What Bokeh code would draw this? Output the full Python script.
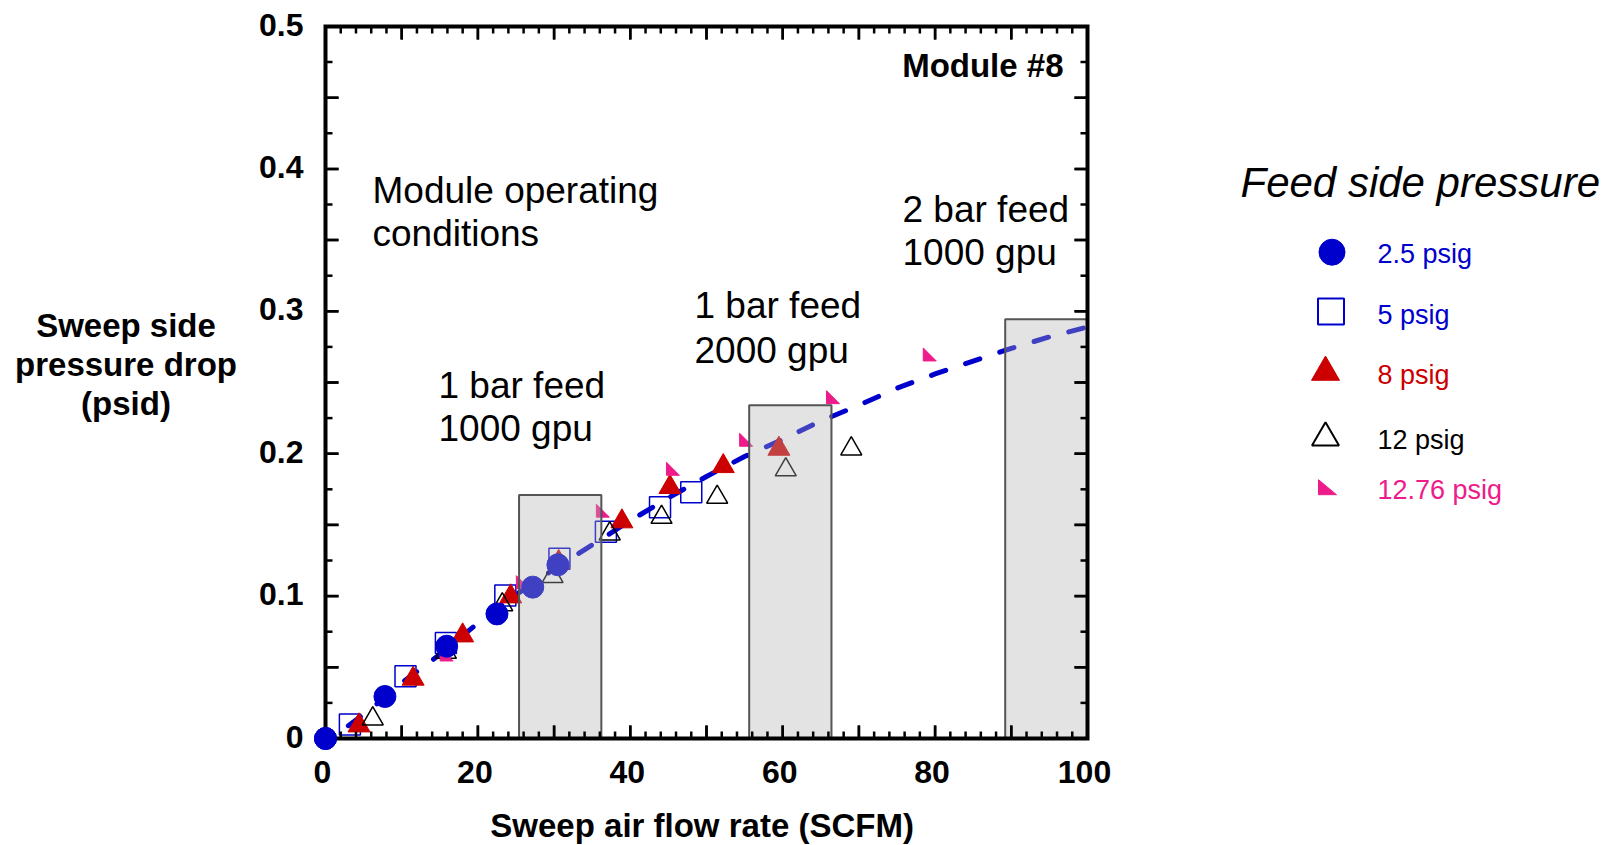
from bokeh.plotting import figure
from bokeh.models import Range1d, Label
from bokeh.embed import file_html
from bokeh.resources import INLINE

# ---------------- data ----------------
x_2_5 = [0.0, 7.8, 15.9, 22.5, 27.2, 30.5]
y_2_5 = [0.0, 0.0295, 0.0648, 0.0875, 0.1063, 0.1220]

x_5 = [3.2, 10.5, 15.8, 23.6, 30.7, 36.8, 43.9, 48.0]
y_5 = [0.0098, 0.0438, 0.0670, 0.1004, 0.1262, 0.1452, 0.1624, 0.1730]

x_8 = [4.4, 11.5, 18.0, 24.3, 30.6, 38.9, 45.2, 52.2, 59.5]
y_8 = [0.0091, 0.0419, 0.0723, 0.0997, 0.1238, 0.1524, 0.1765, 0.1912, 0.2034]

x_12 = [6.2, 15.8, 23.2, 29.8, 37.3, 44.1, 51.4, 60.4, 69.0]
y_12 = [0.0138, 0.0606, 0.0939, 0.1138, 0.1437, 0.1554, 0.1695, 0.1887, 0.2034]

x_12_76 = [15.9, 25.9, 36.4, 45.6, 55.2, 66.6, 79.3]
y_12_76 = [0.0590, 0.1098, 0.1600, 0.1894, 0.2098, 0.2397, 0.2697]

fit_x = [3, 6, 10, 15, 20, 25, 30, 35, 40, 45, 50, 55, 60, 65, 70, 75, 80, 85, 90, 95, 100]
fit_y = [0.009, 0.021, 0.039, 0.059, 0.081, 0.101, 0.119, 0.136, 0.153, 0.169, 0.184,
         0.198, 0.210, 0.223, 0.234, 0.246, 0.256, 0.265, 0.274, 0.282, 0.289]

box_left = [25.4, 55.6, 89.2]
box_right = [36.2, 66.4, 100.0]
box_top = [0.171, 0.234, 0.2945]

series_labels = ["2.5 psig", "5 psig", "8 psig", "12 psig", "12.76 psig"]

X_MIN, X_MAX, Y_MIN, Y_MAX = 0, 100, 0, 0.5
x_major = [0, 10, 20, 30, 40, 50, 60, 70, 80, 90, 100]
x_minor = [i * 2 for i in range(51)]
x_labels = [0, 20, 40, 60, 80, 100]
y_major = [round(i * 0.05, 3) for i in range(11)]
y_minor = [round(i * 0.025, 4) for i in range(21)]
y_labels = [0, 0.1, 0.2, 0.3, 0.4, 0.5]
y_label_text = ["0", "0.1", "0.2", "0.3", "0.4", "0.5"]

# ---------------- layout constants (page pixels) ----------------
BLUE = "#0000CC"
RED = "#CC0000"
PINK = "#EE1C8A"
FONT = "Liberation Sans"

W, H = 1600, 845
A_LEFT, A_RIGHT, A_TOP, A_BOTTOM = 325, 1087, 26, 738   # axes box on the page
XPX = (A_RIGHT - A_LEFT) / (X_MAX - X_MIN)
YPX = (A_BOTTOM - A_TOP) / (Y_MAX - Y_MIN)
BASE_SHIFT = 0.32                     # baseline correction, fraction of font size


def px2x(px):
    return X_MIN + (px - A_LEFT) / XPX


def py2y(py):
    return Y_MIN + (A_BOTTOM - py) / YPX


def x2px(x):
    return A_LEFT + (x - X_MIN) * XPX


def y2py(y):
    return A_BOTTOM - (y - Y_MIN) * YPX


p = figure(width=W, height=H, x_range=Range1d(px2x(0), px2x(W)), y_range=Range1d(py2y(H), py2y(0)),
           output_backend="svg", toolbar_location=None, x_axis_type=None, y_axis_type=None)
p.min_border = 0
p.grid.visible = False
p.outline_line_color = None
p.background_fill_color = "white"
p.border_fill_color = "white"


def lab(px, py, text, fs, style="normal", align="left", color="black"):
    p.add_layout(Label(x=px2x(px), y=py2y(py - BASE_SHIFT * fs), text=text, text_font=FONT,
                       text_font_size=f"{fs}px", text_font_style=style, text_align=align,
                       text_baseline="alphabetic", text_color=color))


# fitted dashed curve
p.line(fit_x, fit_y, line_color=BLUE, line_width=5, line_dash="15 21", line_cap="round")

# markers
p.scatter(x_5, y_5, marker="square", size=21, fill_color=None, line_color=BLUE, line_width=1.5)
p.scatter(x_8, y_8, marker="triangle", size=22, fill_color=RED, line_color=RED)
p.scatter(x_12, y_12, marker="triangle", size=21, fill_color=None, line_color="black", line_width=1.5)
hx, hy = 6.5 / XPX, 6.5 / YPX
p.patches([[x - hx, x - hx, x + hx] for x in x_12_76], [[y + hy, y - hy, y - hy] for y in y_12_76],
          fill_color=PINK, line_color=PINK, line_width=1)
p.scatter(x_2_5, y_2_5, marker="circle", size=22, fill_color=BLUE, line_color=BLUE)

# shaded operating-condition boxes (drawn over the points, semi-transparent)
p.quad(left=box_left, right=box_right, top=box_top, bottom=[Y_MIN] * len(box_top),
       fill_color="#B1B1B1", fill_alpha=0.36, line_color=None)
p.multi_line([[l, l, r, r] for l, r in zip(box_left, box_right)],
             [[Y_MIN, t, t, Y_MIN] for t in box_top],
             line_color="#555555", line_width=2)

# axes box with inward ticks on all four sides
p.quad(left=[X_MIN], right=[X_MAX], bottom=[Y_MIN], top=[Y_MAX], fill_color=None,
       line_color="black", line_width=4, line_join="miter")
MAJ, MIN = 13, 7
sx0, sy0, sx1, sy1 = [], [], [], []
for t in x_minor + x_major:
    L = (MAJ if t in x_major else MIN) / YPX
    sx0 += [t, t]; sx1 += [t, t]
    sy0 += [Y_MIN, Y_MAX]; sy1 += [Y_MIN + L, Y_MAX - L]
for t in y_minor + y_major:
    L = (MAJ if t in y_major else MIN) / XPX
    sy0 += [t, t]; sy1 += [t, t]
    sx0 += [X_MIN, X_MAX]; sx1 += [X_MIN + L, X_MAX - L]
p.segment(sx0, sy0, sx1, sy1, line_color="black", line_width=2.5)

# points lying on the axes sit on top of the axis lines
on_ax = [(x, y) for x, y in zip(x_2_5, y_2_5) if x == X_MIN or y == Y_MIN]
p.scatter([a for a, _ in on_ax], [b for _, b in on_ax], marker="circle", size=22,
          fill_color=BLUE, line_color=BLUE)

# tick labels
for v in x_labels:
    lab(x2px(v) - 3, 781.7, str(v), 32, "bold", "center")
for v, s in zip(y_labels, y_label_text):
    lab(303, y2py(v) + 8.3, s, 32, "bold", "right")

# axis titles
lab(701.6, 836, "Sweep air flow rate (SCFM)", 33, "bold", "center")
lab(125.5, 335.7, "Sweep side", 33, "bold", "center")
lab(125.5, 375, "pressure drop", 33, "bold", "center")
lab(125.5, 414, "(psid)", 33, "bold", "center")

# annotations
lab(1063, 76, "Module #8", 33, "bold", "right")
lab(372, 201.7, "Module operating", 37)
lab(372, 245, "conditions", 37)
lab(438, 396.7, "1 bar feed", 37)
lab(438, 440, "1000 gpu", 37)
lab(694, 317.3, "1 bar feed", 37)
lab(694, 361.7, "2000 gpu", 37)
lab(902, 220.5, "2 bar feed", 37)
lab(902, 263.5, "1000 gpu", 37)

# ---------------- legend ----------------
lab(1240, 195, "Feed side pressure", 42, "italic")
mx = [1331.5, 1330.5, 1325, 1325, 1327]
my = [251.7, 311, 371.7, 437.3, 486.7]
p.scatter([px2x(mx[0])], [py2y(my[0])], marker="circle", size=26, fill_color=BLUE, line_color=BLUE)
p.scatter([px2x(mx[1])], [py2y(my[1])], marker="square", size=26, fill_color=None, line_color=BLUE, line_width=2)
p.scatter([px2x(mx[2])], [py2y(my[2])], marker="triangle", size=28, fill_color=RED, line_color=RED)
p.scatter([px2x(mx[3])], [py2y(my[3])], marker="triangle", size=27, fill_color=None, line_color="black", line_width=2)
p.patches([[px2x(mx[4] - 9), px2x(mx[4] - 9), px2x(mx[4] + 9)]],
          [[py2y(my[4] - 7.5), py2y(my[4] + 7.5), py2y(my[4] + 7.5)]],
          fill_color=PINK, line_color=PINK)

text_colors = [BLUE, BLUE, RED, "black", PINK]
text_base = [261.7, 323.3, 383.3, 447.7, 498.3]
for t, c, b in zip(series_labels, text_colors, text_base):
    lab(1377, b, t, 27, "normal", "left", c)

open("out.html", "w").write(file_html(p, INLINE))
